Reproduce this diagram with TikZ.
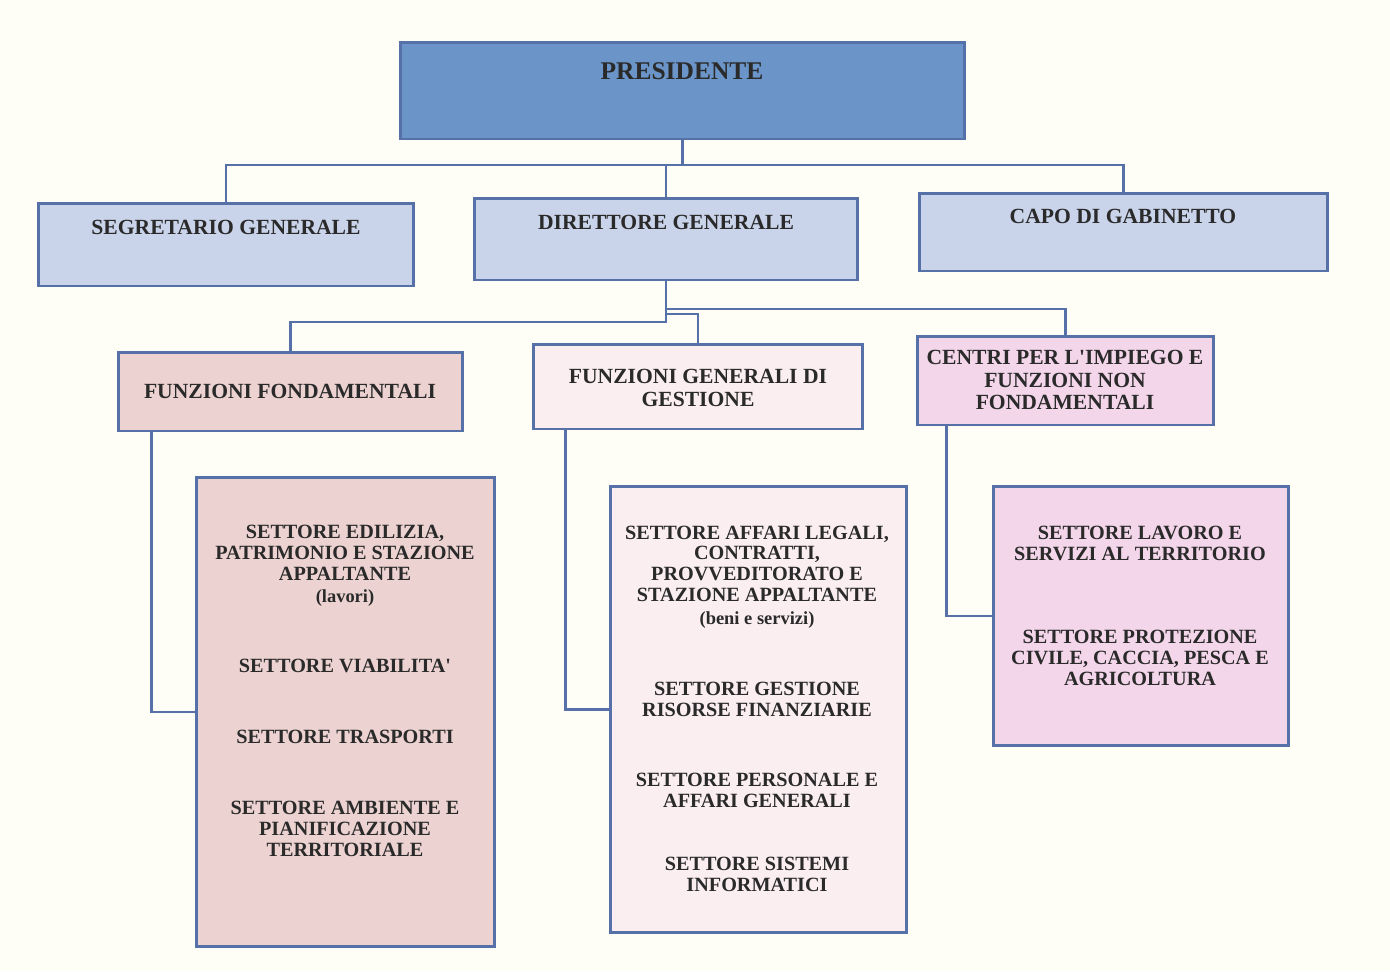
\documentclass[tikz,border=0pt]{standalone}
\usepackage{fontspec}
\setmainfont{Liberation Serif}
\usetikzlibrary{positioning}

\definecolor{paper}{HTML}{FFFEF6}
\definecolor{edge}{HTML}{5670A8}
\definecolor{ink}{HTML}{2A2A2A}
\definecolor{presfill}{HTML}{6B95C8}
\definecolor{rowfill}{HTML}{C9D3EA}
\definecolor{fondfill}{HTML}{ECD3D1}
\definecolor{gestfill}{HTML}{FAEEF1}
\definecolor{cpifill}{HTML}{F3D6EA}

\tikzset{
	orgbox/.style={draw=edge, line width=1.7pt, rectangle, inner sep=0pt},
	lbl/.style={font=\bfseries\fontsize{12.3}{13}\selectfont, align=center, text=ink, inner sep=0pt},
	sett/.style={font=\bfseries\fontsize{11.5}{11.9}\selectfont, align=center, text=ink, inner sep=0pt},
	link/.style={draw=edge, line width=1.4pt},
}
\newcommand{\subnote}[1]{\\[1pt]{\fontsize{10.5}{11}\selectfont #1}}

\begin{document}
\begin{tikzpicture}
	[x=0.02cm, y=-0.02cm]
	\fill[paper] (0,0) rectangle (1390,971);
	\useasboundingbox (0,0) rectangle (1390,971);
	% top level
	\node[orgbox, fill=presfill, minimum width=11.3cm, minimum height=1.94cm] (pres) at (682.5,90.5) {};
	\node[lbl, font=\bfseries\fontsize{14.5}{15}\selectfont] (presT) at (682,71) {PRESIDENTE};
	% second level
	\node[orgbox, fill=rowfill, minimum width=7.52cm, minimum height=1.66cm] (segr) at (226,244.5) {};
	\node[lbl] (segrT) at (226,227) {SEGRETARIO GENERALE};
	\node[orgbox, fill=rowfill, minimum width=7.68cm, minimum height=1.64cm] (dir) at (666,239) {};
	\node[lbl] (dirT) at (666,222) {DIRETTORE GENERALE};
	\node[orgbox, fill=rowfill, minimum width=8.18cm, minimum height=1.56cm] (capo) at (1123.5,232) {};
	\node[lbl] (capoT) at (1123,216) {CAPO DI GABINETTO};
	% third level
	\node[orgbox, fill=fondfill, minimum width=6.9cm, minimum height=1.58cm] (fond) at (290.5,391.5) {};
	\node[lbl] (fondT) at (290,391) {FUNZIONI FONDAMENTALI};
	\node[orgbox, fill=gestfill, minimum width=6.6cm, minimum height=1.7cm] (gest) at (698,386.5) {};
	\node[lbl] (gestT) at (698,388) {FUNZIONI GENERALI DI\\GESTIONE};
	\node[orgbox, fill=cpifill, minimum width=5.94cm, minimum height=1.78cm] (cpi) at (1065.5,380.5) {};
	\node[lbl] (cpiT) at (1065,380) {CENTRI PER L\textquotesingle IMPIEGO E\\FUNZIONI NON\\FONDAMENTALI};
	% settori
	\node[orgbox, fill=fondfill, minimum width=5.98cm, minimum height=9.4cm] (setA) at (345.5,712) {};
	\node[sett] (setA1) at (345,566) {SETTORE EDILIZIA,\\PATRIMONIO E STAZIONE\\APPALTANTE\subnote{(lavori)}};
	\node[sett] (setA2) at (345,666) {SETTORE VIABILITA\textquotesingle};
	\node[sett] (setA3) at (345,737) {SETTORE TRASPORTI};
	\node[sett] (setA4) at (345,829) {SETTORE AMBIENTE E\\PIANIFICAZIONE\\TERRITORIALE};
	\node[orgbox, fill=gestfill, minimum width=5.94cm, minimum height=8.94cm] (setB) at (758.5,709.5) {};
	\node[sett] (setB1) at (757,577) {SETTORE AFFARI LEGALI,\\CONTRATTI,\\PROVVEDITORATO E\\STAZIONE APPALTANTE\subnote{(beni e servizi)}};
	\node[sett] (setB2) at (757,699) {SETTORE GESTIONE\\RISORSE FINANZIARIE};
	\node[sett] (setB3) at (757,790) {SETTORE PERSONALE E\\AFFARI GENERALI};
	\node[sett] (setB4) at (757,874.5) {SETTORE SISTEMI\\INFORMATICI};
	\node[orgbox, fill=cpifill, minimum width=5.92cm, minimum height=5.2cm] (setC) at (1141,616) {};
	\node[sett] (setC1) at (1140,543) {SETTORE LAVORO E\\SERVIZI AL TERRITORIO};
	\node[sett] (setC2) at (1140,658) {SETTORE PROTEZIONE\\CIVILE, CACCIA, PESCA E\\AGRICOLTURA};
	% connectors
	\coordinate (bus1) at (0,165);
	\coordinate (bus2) at (0,322);
	\coordinate (bus3) at (0,309);
	\coordinate (bus4) at (0,314);
	\draw[link] (pres.south) -- (pres.south |- bus1);
	\draw[link] (segr.north) |- (capo.north |- bus1) -- (capo.north);
	\draw[link] (dir.north) -- (dir.north |- bus1);
	\draw[link] (dir.south) -- (dir.south |- bus2) -- (fond.north |- bus2) -- (fond.north);
	\draw[link] (dir.south |- bus3) -| (cpi.north);
	\draw[link] (dir.south |- bus4) -| (gest.north);
	\draw[link] ([xshift=0.7cm]fond.south west) |- (setA.west);
	\draw[link] ([xshift=0.68cm]gest.south west) |- (setB.west);
	\draw[link] ([xshift=0.62cm]cpi.south west) |- (setC.west);
\end{tikzpicture}
\end{document}
